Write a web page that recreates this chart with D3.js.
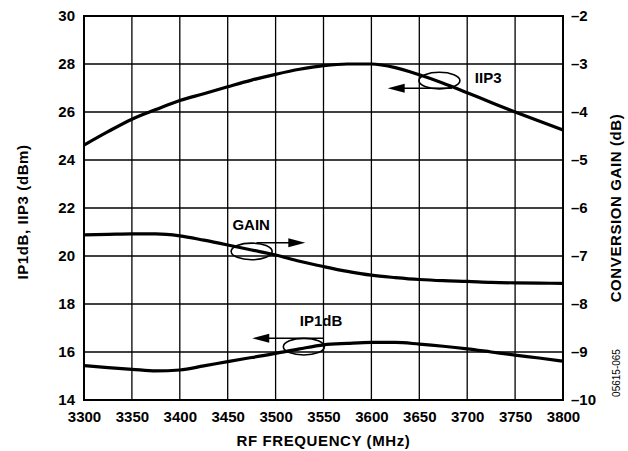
<!DOCTYPE html>
<html><head><meta charset="utf-8">
<script src="https://cdn.jsdelivr.net/npm/d3@7"></script>
<style>
html,body{margin:0;padding:0;background:#fff;}
svg text{font-family:"Liberation Sans",Arial,Helvetica,sans-serif;font-weight:bold;fill:#000;}
</style></head>
<body><svg id="chart" width="628" height="451"></svg>
<script>
// ---- data ----
const freqs = [3300,3325,3350,3375,3400,3425,3450,3475,3500,3525,3550,3575,3600,3625,3650,3675,3700,3725,3750,3775,3800];
const iip3 = [24.62,25.18,25.7,26.1,26.48,26.76,27.05,27.33,27.57,27.78,27.93,28.0,28.0,27.85,27.55,27.2,26.8,26.4,26.0,25.62,25.25];
const ip1db = [15.43,15.35,15.28,15.21,15.25,15.42,15.6,15.77,15.94,16.13,16.3,16.36,16.4,16.4,16.33,16.24,16.13,16.0,15.87,15.75,15.62];
const gain = [-6.56,-6.55,-6.54,-6.54,-6.58,-6.67,-6.77,-6.875,-6.98,-7.11,-7.22,-7.32,-7.4,-7.45,-7.49,-7.515,-7.53,-7.55,-7.56,-7.565,-7.57];
const xTicks = [3300,3350,3400,3450,3500,3550,3600,3650,3700,3750,3800];
const yLeftTicks = [14,16,18,20,22,24,26,28,30];
const yRightTicks = [-10,-9,-8,-7,-6,-5,-4,-3,-2];
// annotations: label, ellipse centre (freq, left-axis value), arrow from/to freq, arrow level, label position
const annLabels = ["IIP3","GAIN","IP1dB"];
const annEllipse = [[3671,27.31],[3475,20.19],[3529.5,16.22]];
const annArrow = [[3684,3617,26.99],[3480,3531,20.55],[3550,3475.6,16.57]];
const annText = [[3708,27.2],[3474.5,21.08],[3525.3,17.08]];

// ---- layout ----
const W=628,H=451;
const L=84,R=563,T=16,B=400;
const svg=d3.select("#chart");
const x=d3.scaleLinear().domain([3300,3800]).range([L,R]);
const yL=d3.scaleLinear().domain([14,30]).range([B,T]);
const yR=d3.scaleLinear().domain([-10,-2]).range([B,T]);

// grid
svg.append("g").selectAll("line.v").data(xTicks).join("line")
  .attr("x1",d=>x(d)).attr("x2",d=>x(d)).attr("y1",T).attr("y2",B)
  .attr("stroke","#000").attr("stroke-width",1.3);
svg.append("g").selectAll("line.h").data(yLeftTicks).join("line")
  .attr("x1",L).attr("x2",R).attr("y1",d=>yL(d)).attr("y2",d=>yL(d))
  .attr("stroke","#000").attr("stroke-width",1.3);
// frame
svg.append("rect").attr("x",L).attr("y",T).attr("width",R-L).attr("height",B-T)
  .attr("fill","none").attr("stroke","#000").attr("stroke-width",2);

// axes (labels only)
const fs=15;
const axB=svg.append("g").attr("transform",`translate(0,${B})`)
  .call(d3.axisBottom(x).tickValues(xTicks).tickSize(0).tickPadding(11).tickFormat(d3.format("d")));
const axL=svg.append("g").attr("transform",`translate(${L},0)`)
  .call(d3.axisLeft(yL).tickValues(yLeftTicks).tickSize(0).tickPadding(9).tickFormat(d3.format("d")));
const axR=svg.append("g").attr("transform",`translate(${R},0)`)
  .call(d3.axisRight(yR).tickValues(yRightTicks).tickSize(0).tickPadding(8).tickFormat(d=>"\u2013"+Math.abs(d)));
[axB,axL,axR].forEach(a=>{a.select(".domain").remove();
  a.selectAll("text").attr("font-size",fs).attr("font-family","Liberation Sans, Arial, sans-serif").attr("font-weight","bold").attr("fill","#000");});

// curves
const line=(ys,sc)=>d3.line().x((d,i)=>x(freqs[i])).y((d,i)=>sc(ys[i])).curve(d3.curveMonotoneX)(freqs);
svg.append("path").attr("d",line(iip3,yL)).attr("fill","none").attr("stroke","#000").attr("stroke-width",3.2);
svg.append("path").attr("d",line(ip1db,yL)).attr("fill","none").attr("stroke","#000").attr("stroke-width",3.2);
svg.append("path").attr("d",line(gain,yR)).attr("fill","none").attr("stroke","#000").attr("stroke-width",3.2);

// annotations
annLabels.forEach((lab,i)=>{
  const g=svg.append("g");
  g.append("ellipse").attr("cx",x(annEllipse[i][0])).attr("cy",yL(annEllipse[i][1]))
    .attr("rx",20.5).attr("ry",8.3).attr("fill","none").attr("stroke","#000").attr("stroke-width",1.6);
  const x1=x(annArrow[i][0]),x2=x(annArrow[i][1]),yy=yL(annArrow[i][2]);
  const dir=Math.sign(x2-x1);
  g.append("line").attr("x1",x1).attr("x2",x2-dir*10).attr("y1",yy).attr("y2",yy).attr("stroke","#000").attr("stroke-width",1.6);
  g.append("path").attr("d",`M${x2},${yy}L${x2-dir*17},${yy-4.5}L${x2-dir*17},${yy+4.5}Z`).attr("fill","#000");
  g.append("text").attr("x",x(annText[i][0])).attr("y",yL(annText[i][1]))
    .attr("text-anchor",i===1?"middle":"start").attr("font-size",fs).text(lab);
});

// titles
svg.append("text").attr("x",(L+R)/2).attr("y",446).attr("text-anchor","middle")
  .attr("font-size",fs).attr("letter-spacing",0.6).text("RF FREQUENCY (MHz)");
svg.append("text").attr("transform",`translate(28,${(T+B)/2+4}) rotate(-90)`).attr("text-anchor","middle")
  .attr("font-size",fs).attr("letter-spacing",0.6).text("IP1dB, IIP3 (dBm)");
svg.append("text").attr("transform",`translate(621,${(T+B)/2}) rotate(-90)`).attr("text-anchor","middle")
  .attr("font-size",fs).attr("letter-spacing",0.6).text("CONVERSION GAIN (dB)");
svg.append("text").attr("transform",`translate(620,373) rotate(-90)`).attr("text-anchor","middle")
  .attr("font-size",10).attr("font-weight","normal").attr("style","font-weight:normal").text("05615-065");
</script></body></html>
